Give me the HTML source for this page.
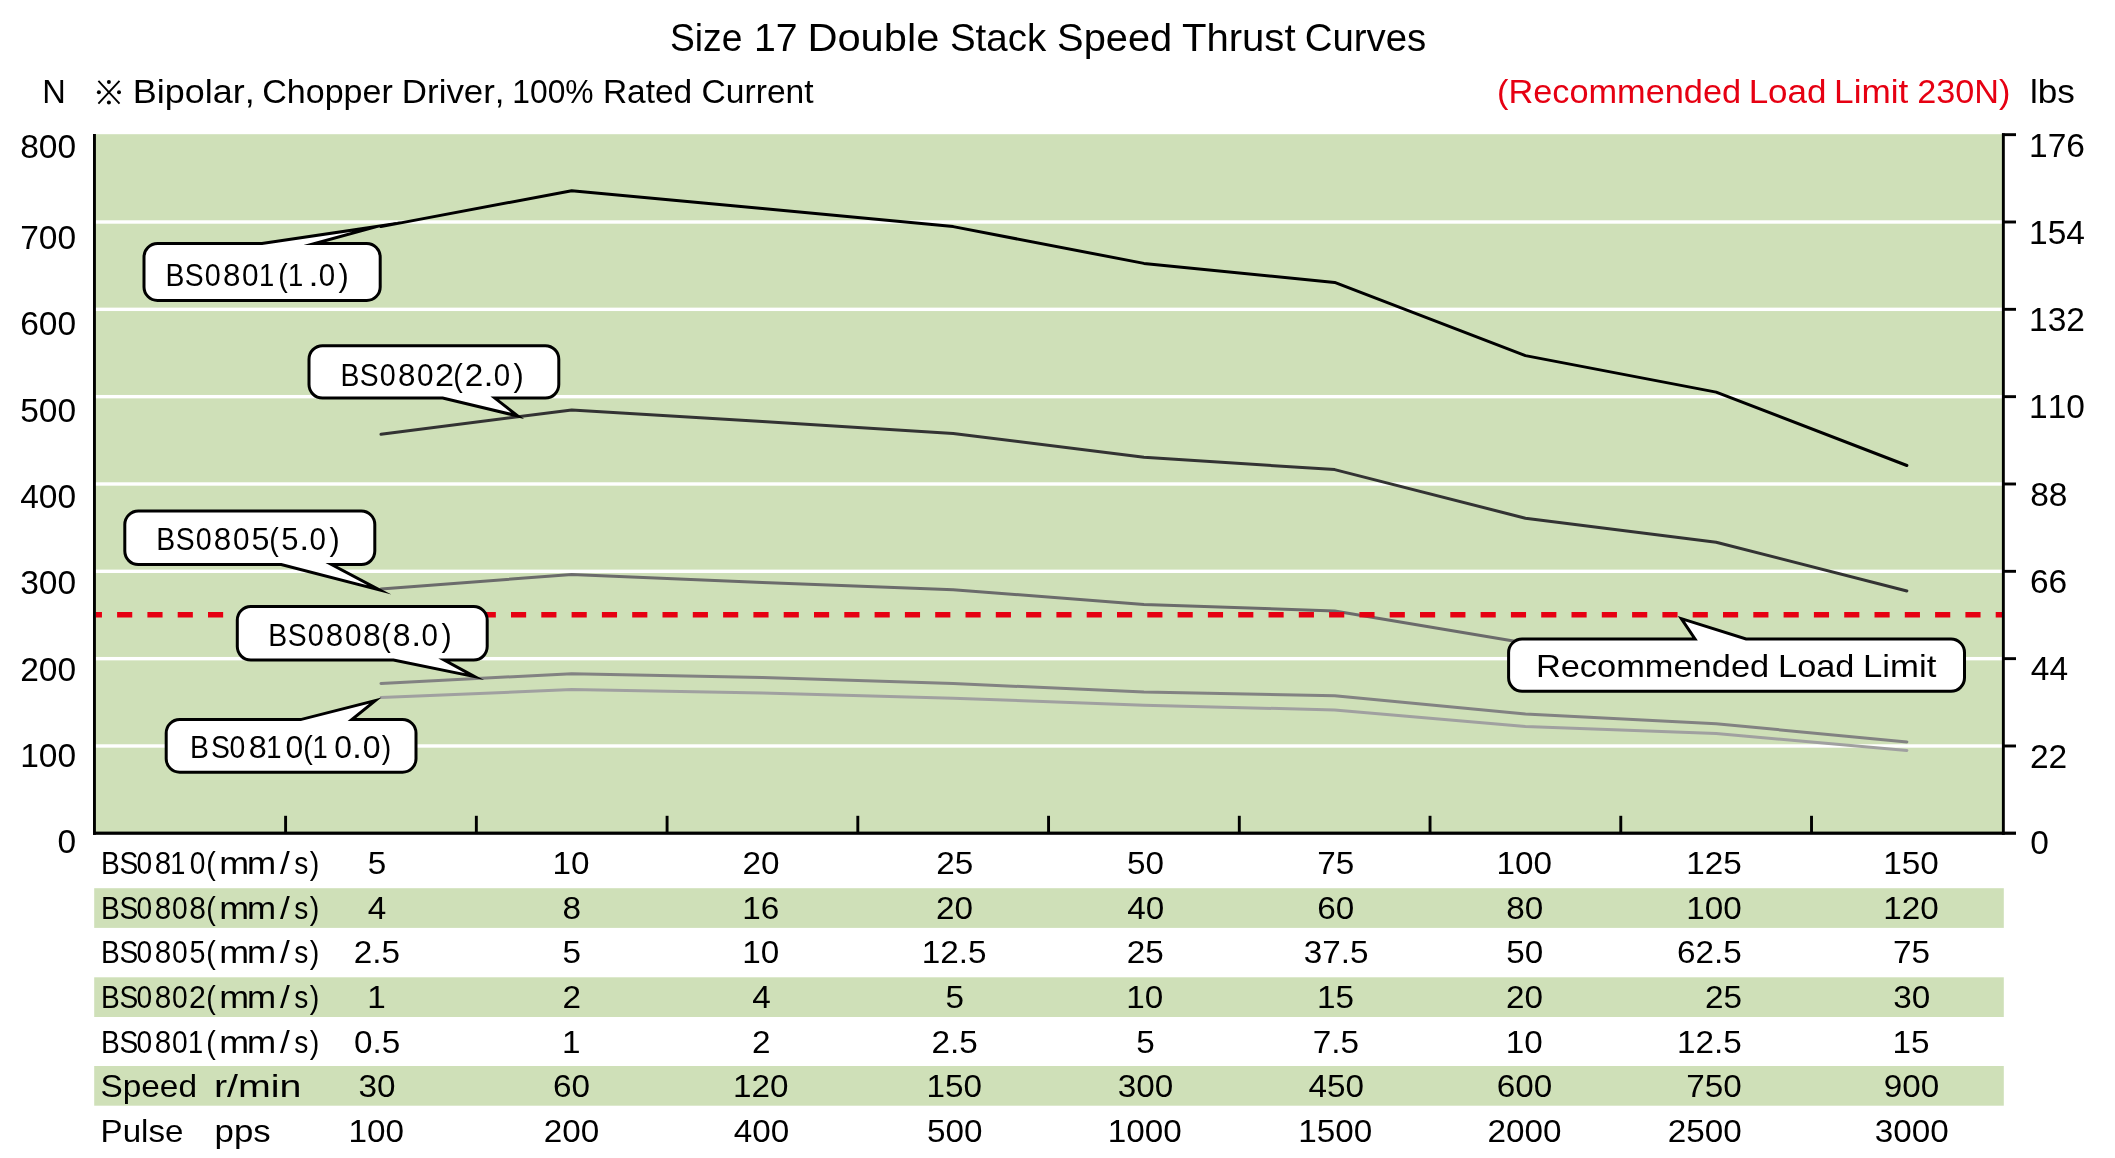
<!DOCTYPE html>
<html><head><meta charset="utf-8"><title>Size 17 Double Stack Speed Thrust Curves</title>
<style>
html,body{margin:0;padding:0;background:#fff;}
body{width:2115px;height:1158px;overflow:hidden;}
svg{display:block;font-family:"Liberation Sans",sans-serif;font-kerning:none;}
text{font-kerning:none;}
svg{will-change:transform;}
</style></head><body>
<svg width="2115" height="1158" viewBox="0 0 2115 1158">
<rect x="0" y="0" width="2115" height="1158" fill="#fff"/>
<rect x="94.5" y="134.2" width="1908.80" height="699.11" fill="#cfe0b8"/>
<rect x="94.5" y="220.30" width="1908.80" height="3.4" fill="#fff"/>
<rect x="94.5" y="307.63" width="1908.80" height="3.4" fill="#fff"/>
<rect x="94.5" y="394.96" width="1908.80" height="3.4" fill="#fff"/>
<rect x="94.5" y="482.29" width="1908.80" height="3.4" fill="#fff"/>
<rect x="94.5" y="569.62" width="1908.80" height="3.4" fill="#fff"/>
<rect x="94.5" y="656.95" width="1908.80" height="3.4" fill="#fff"/>
<rect x="94.5" y="744.28" width="1908.80" height="3.4" fill="#fff"/>
<rect x="94.2" y="888.2" width="1909.6" height="39.7" fill="#cfe0b8"/>
<rect x="94.2" y="977.3" width="1909.6" height="39.7" fill="#cfe0b8"/>
<rect x="94.2" y="1066.0" width="1909.6" height="39.7" fill="#cfe0b8"/>
<path d="M380.97,226.6 L571.71,190.7 L762.45,208.6 L953.19,226.6 L1143.93,263.4 L1334.67,282.4 L1525.41,355.6 L1716.15,392.1 L1906.89,465.5" stroke="#000000" stroke-width="3.0" fill="none" stroke-linejoin="round" stroke-linecap="round"/>
<path d="M380.97,434.3 L571.71,409.9 L762.45,421.6 L953.19,433.4 L1143.93,457.3 L1334.67,469.6 L1525.41,518.2 L1716.15,542.2 L1906.89,591.0" stroke="#333333" stroke-width="3.0" fill="none" stroke-linejoin="round" stroke-linecap="round"/>
<path d="M380.97,589.1 L571.71,574.4 L762.45,582.4 L953.19,589.7 L1143.93,604.5 L1334.67,611.0 L1525.41,643.0 L1716.15,660.0 L1906.89,675.0" stroke="#6b6b6b" stroke-width="3.0" fill="none" stroke-linejoin="round" stroke-linecap="round"/>
<path d="M380.97,683.4 L571.71,673.7 L762.45,677.6 L953.19,683.5 L1143.93,692.1 L1334.67,695.8 L1525.41,714.0 L1716.15,723.8 L1906.89,741.9" stroke="#828282" stroke-width="3.0" fill="none" stroke-linejoin="round" stroke-linecap="round"/>
<path d="M380.97,697.5 L571.71,689.6 L762.45,693.0 L953.19,698.2 L1143.93,705.3 L1334.67,709.9 L1525.41,726.5 L1716.15,733.6 L1906.89,750.4" stroke="#a0a0a0" stroke-width="3.0" fill="none" stroke-linejoin="round" stroke-linecap="round"/>
<line x1="96" y1="614.7" x2="2002" y2="614.7" stroke="#e60012" stroke-width="5.4" stroke-dasharray="15.15 15.15" stroke-dashoffset="9.20"/>
<rect x="93" y="134" width="2.9" height="700.8" fill="#000"/>
<rect x="93" y="831.6" width="1923" height="3.2" fill="#000"/>
<rect x="2001.9" y="133.3" width="2.9" height="701.5" fill="#000"/>
<rect x="2002" y="133.22" width="14" height="2.9" fill="#000"/>
<rect x="2002" y="220.55" width="14" height="2.9" fill="#000"/>
<rect x="2002" y="307.88" width="14" height="2.9" fill="#000"/>
<rect x="2002" y="395.21" width="14" height="2.9" fill="#000"/>
<rect x="2002" y="482.54" width="14" height="2.9" fill="#000"/>
<rect x="2002" y="569.87" width="14" height="2.9" fill="#000"/>
<rect x="2002" y="657.20" width="14" height="2.9" fill="#000"/>
<rect x="2002" y="744.53" width="14" height="2.9" fill="#000"/>
<rect x="284.15" y="815.8" width="2.9" height="17" fill="#000"/>
<rect x="474.89" y="815.8" width="2.9" height="17" fill="#000"/>
<rect x="665.63" y="815.8" width="2.9" height="17" fill="#000"/>
<rect x="856.37" y="815.8" width="2.9" height="17" fill="#000"/>
<rect x="1047.11" y="815.8" width="2.9" height="17" fill="#000"/>
<rect x="1237.85" y="815.8" width="2.9" height="17" fill="#000"/>
<rect x="1428.59" y="815.8" width="2.9" height="17" fill="#000"/>
<rect x="1619.33" y="815.8" width="2.9" height="17" fill="#000"/>
<rect x="1810.07" y="815.8" width="2.9" height="17" fill="#000"/>
<path d="M157.5,243.6 L261.90,243.55 L377.10,226.50 L314.70,243.55 H366.7 A13.5,13.5 0 0 1 380.2,257.1 V287.0 A13.5,13.5 0 0 1 366.7,300.5 H157.5 A13.5,13.5 0 0 1 144.0,287.0 V257.1 A13.5,13.5 0 0 1 157.5,243.6 Z" stroke="#000" stroke-width="3.0" fill="#fff" stroke-linejoin="miter" stroke-miterlimit="40"/>
<path d="M322.5,345.7 H545.3 A13.5,13.5 0 0 1 558.8,359.2 V384.6 A13.5,13.5 0 0 1 545.3,398.1 L494.83,398.10 L517.74,415.95 L442.68,398.10 H322.5 A13.5,13.5 0 0 1 309.0,384.6 V359.2 A13.5,13.5 0 0 1 322.5,345.7 Z" stroke="#000" stroke-width="3.0" fill="#fff" stroke-linejoin="miter" stroke-miterlimit="40"/>
<path d="M138.3,511.0 H361.3 A13.5,13.5 0 0 1 374.8,524.5 V551.1 A13.5,13.5 0 0 1 361.3,564.6 L331.56,564.60 L379.45,589.96 L281.19,564.60 H138.3 A13.5,13.5 0 0 1 124.8,551.1 V524.5 A13.5,13.5 0 0 1 138.3,511.0 Z" stroke="#000" stroke-width="3.0" fill="#fff" stroke-linejoin="miter" stroke-miterlimit="40"/>
<path d="M250.8,606.5 H473.7 A13.5,13.5 0 0 1 487.2,620.0 V646.6 A13.5,13.5 0 0 1 473.7,660.1 L444.20,660.10 L474.59,676.63 L393.45,660.10 H250.8 A13.5,13.5 0 0 1 237.3,646.6 V620.0 A13.5,13.5 0 0 1 250.8,606.5 Z" stroke="#000" stroke-width="3.0" fill="#fff" stroke-linejoin="miter" stroke-miterlimit="40"/>
<path d="M179.7,719.6 L300.59,719.60 L375.25,700.63 L351.87,719.60 H402.5 A13.5,13.5 0 0 1 416.0,733.1 V758.7 A13.5,13.5 0 0 1 402.5,772.2 H179.7 A13.5,13.5 0 0 1 166.2,758.7 V733.1 A13.5,13.5 0 0 1 179.7,719.6 Z" stroke="#000" stroke-width="3.0" fill="#fff" stroke-linejoin="miter" stroke-miterlimit="40"/>
<path d="M1522.1,639.0 L1695.01,639.00 L1681.33,618.62 L1746.07,639.00 H1951.0 A13.5,13.5 0 0 1 1964.5,652.5 V677.8 A13.5,13.5 0 0 1 1951.0,691.3 H1522.1 A13.5,13.5 0 0 1 1508.6,677.8 V652.5 A13.5,13.5 0 0 1 1522.1,639.0 Z" stroke="#000" stroke-width="3.0" fill="#fff" stroke-linejoin="miter" stroke-miterlimit="40"/>
<text transform="translate(165.38 285.70) scale(0.8800 1)" font-size="32.20" fill="#000">B</text>
<text transform="translate(184.86 285.70) scale(0.8800 1)" font-size="32.20" fill="#000">S</text>
<text transform="translate(204.78 285.70) scale(0.8900 1)" font-size="32.20" fill="#000">0</text>
<text transform="translate(222.94 285.70) scale(0.9729 1)" font-size="32.20" fill="#000">8</text>
<text transform="translate(242.04 285.70) scale(0.9225 1)" font-size="32.20" fill="#000">0</text>
<text transform="translate(259.01 285.70) scale(0.8500 1)" font-size="32.20" fill="#000">1</text>
<text transform="translate(278.32 285.70) scale(0.8902 1)" font-size="32.20" fill="#000">(</text>
<text transform="translate(288.11 285.70) scale(0.8500 1)" font-size="32.20" fill="#000">1</text>
<text transform="translate(308.39 285.70) scale(1.1200 1)" font-size="32.20" fill="#000">.</text>
<text transform="translate(318.65 285.70) scale(0.9160 1)" font-size="32.20" fill="#000">0</text>
<text transform="translate(338.52 285.70) scale(0.9488 1)" font-size="32.20" fill="#000">)</text>
<text transform="translate(340.38 385.60) scale(0.8800 1)" font-size="32.20" fill="#000">B</text>
<text transform="translate(359.86 385.60) scale(0.8800 1)" font-size="32.20" fill="#000">S</text>
<text transform="translate(379.78 385.60) scale(0.8900 1)" font-size="32.20" fill="#000">0</text>
<text transform="translate(397.94 385.60) scale(0.9729 1)" font-size="32.20" fill="#000">8</text>
<text transform="translate(417.04 385.60) scale(0.9225 1)" font-size="32.20" fill="#000">0</text>
<text transform="translate(434.98 385.60) scale(1.0634 1)" font-size="32.20" fill="#000">2</text>
<text transform="translate(453.32 385.60) scale(0.8902 1)" font-size="32.20" fill="#000">(</text>
<text transform="translate(464.72 385.60) scale(1.0362 1)" font-size="32.20" fill="#000">2</text>
<text transform="translate(483.39 385.60) scale(1.1200 1)" font-size="32.20" fill="#000">.</text>
<text transform="translate(493.65 385.60) scale(0.9160 1)" font-size="32.20" fill="#000">0</text>
<text transform="translate(513.52 385.60) scale(0.9488 1)" font-size="32.20" fill="#000">)</text>
<text transform="translate(156.28 549.80) scale(0.8800 1)" font-size="32.20" fill="#000">B</text>
<text transform="translate(175.76 549.80) scale(0.8800 1)" font-size="32.20" fill="#000">S</text>
<text transform="translate(195.68 549.80) scale(0.8900 1)" font-size="32.20" fill="#000">0</text>
<text transform="translate(213.84 549.80) scale(0.9729 1)" font-size="32.20" fill="#000">8</text>
<text transform="translate(232.94 549.80) scale(0.9225 1)" font-size="32.20" fill="#000">0</text>
<text transform="translate(251.41 549.80) scale(1.0022 1)" font-size="32.20" fill="#000">5</text>
<text transform="translate(269.22 549.80) scale(0.8902 1)" font-size="32.20" fill="#000">(</text>
<text transform="translate(281.26 549.80) scale(0.9629 1)" font-size="32.20" fill="#000">5</text>
<text transform="translate(299.29 549.80) scale(1.1200 1)" font-size="32.20" fill="#000">.</text>
<text transform="translate(309.55 549.80) scale(0.9160 1)" font-size="32.20" fill="#000">0</text>
<text transform="translate(329.42 549.80) scale(0.9488 1)" font-size="32.20" fill="#000">)</text>
<text transform="translate(268.28 645.60) scale(0.8800 1)" font-size="32.20" fill="#000">B</text>
<text transform="translate(287.76 645.60) scale(0.8800 1)" font-size="32.20" fill="#000">S</text>
<text transform="translate(307.68 645.60) scale(0.8900 1)" font-size="32.20" fill="#000">0</text>
<text transform="translate(325.84 645.60) scale(0.9729 1)" font-size="32.20" fill="#000">8</text>
<text transform="translate(344.94 645.60) scale(0.9225 1)" font-size="32.20" fill="#000">0</text>
<text transform="translate(363.11 645.60) scale(0.9928 1)" font-size="32.20" fill="#000">8</text>
<text transform="translate(381.22 645.60) scale(0.8902 1)" font-size="32.20" fill="#000">(</text>
<text transform="translate(392.81 645.60) scale(0.9928 1)" font-size="32.20" fill="#000">8</text>
<text transform="translate(411.29 645.60) scale(1.1200 1)" font-size="32.20" fill="#000">.</text>
<text transform="translate(421.55 645.60) scale(0.9160 1)" font-size="32.20" fill="#000">0</text>
<text transform="translate(441.42 645.60) scale(0.9488 1)" font-size="32.20" fill="#000">)</text>
<text transform="translate(190.03 757.60) scale(0.8800 1)" font-size="32.20" fill="#000">B</text>
<text transform="translate(210.91 757.60) scale(0.8800 1)" font-size="32.20" fill="#000">S</text>
<text transform="translate(229.47 757.60) scale(0.8800 1)" font-size="32.20" fill="#000">0</text>
<text transform="translate(248.69 757.60) scale(1.0060 1)" font-size="32.20" fill="#000">8</text>
<text transform="translate(266.21 757.60) scale(0.8500 1)" font-size="32.20" fill="#000">1</text>
<text transform="translate(285.46 757.60) scale(0.9875 1)" font-size="32.20" fill="#000">0</text>
<text transform="translate(303.22 757.60) scale(0.8902 1)" font-size="32.20" fill="#000">(</text>
<text transform="translate(312.46 757.60) scale(0.8500 1)" font-size="32.20" fill="#000">1</text>
<text transform="translate(334.26 757.60) scale(0.9875 1)" font-size="32.20" fill="#000">0</text>
<text transform="translate(352.04 757.60) scale(1.1200 1)" font-size="32.20" fill="#000">.</text>
<text transform="translate(362.65 757.60) scale(0.9940 1)" font-size="32.20" fill="#000">0</text>
<text transform="translate(381.83 757.60) scale(0.8800 1)" font-size="32.20" fill="#000">)</text>
<text transform="translate(1535.88 676.90) scale(1.0686 1)" font-size="32.20" fill="#000">Recommended</text>
<text transform="translate(1778.09 676.90) scale(1.0655 1)" font-size="32.20" fill="#000">Load</text>
<text transform="translate(1863.05 676.90) scale(1.0782 1)" font-size="32.20" fill="#000">Limit</text>
<text transform="translate(670.01 50.90) scale(0.9623 1)" font-size="38.70" fill="#000">Size</text>
<text transform="translate(753.91 50.90) scale(1.0144 1)" font-size="38.70" fill="#000">17</text>
<text transform="translate(807.38 50.90) scale(1.0761 1)" font-size="38.70" fill="#000">Double</text>
<text transform="translate(949.95 50.90) scale(0.9938 1)" font-size="38.70" fill="#000">Stack</text>
<text transform="translate(1057.09 50.90) scale(1.0283 1)" font-size="38.70" fill="#000">Speed</text>
<text transform="translate(1181.90 50.90) scale(1.0367 1)" font-size="38.70" fill="#000">Thrust</text>
<text transform="translate(1304.75 50.90) scale(0.9915 1)" font-size="38.70" fill="#000">Curves</text>
<text transform="translate(42.23 102.90) scale(1.0025 1)" font-size="32.50" fill="#000">N</text>
<text transform="translate(132.85 102.90) scale(1.1070 1)" font-size="32.50" fill="#000">Bipolar,</text>
<text transform="translate(262.27 102.90) scale(1.0475 1)" font-size="32.50" fill="#000">Chopper</text>
<text transform="translate(401.84 102.90) scale(1.0732 1)" font-size="32.50" fill="#000">Driver,</text>
<text transform="translate(512.28 102.90) scale(0.9788 1)" font-size="32.50" fill="#000">100%</text>
<text transform="translate(602.95 102.90) scale(1.0297 1)" font-size="32.50" fill="#000">Rated</text>
<text transform="translate(701.59 102.90) scale(1.0340 1)" font-size="32.50" fill="#000">Current</text>
<text transform="translate(1496.97 102.90) scale(1.0563 1)" font-size="32.50" fill="#e60012">(Recommended</text>
<text transform="translate(1748.63 102.90) scale(1.0779 1)" font-size="32.50" fill="#e60012">Load</text>
<text transform="translate(1834.12 102.90) scale(1.0820 1)" font-size="32.50" fill="#e60012">Limit</text>
<text transform="translate(1917.18 102.90) scale(1.0534 1)" font-size="32.50" fill="#e60012">230N)</text>
<text transform="translate(2029.93 102.90) scale(1.0817 1)" font-size="32.50" fill="#000">lbs</text>
<g stroke="#000" stroke-width="1.9" fill="none"><path d="M98.4,80.8 L119.5,103.6 M119.5,80.8 L98.4,103.6"/></g>
<circle cx="108.9" cy="81.9" r="2.0" fill="#000"/>
<circle cx="108.9" cy="102.4" r="2.0" fill="#000"/>
<circle cx="98.9" cy="92.2" r="2.0" fill="#000"/>
<circle cx="119.0" cy="92.2" r="2.0" fill="#000"/>
<text transform="translate(20.16 157.98) scale(1.0350 1)" font-size="32.40" fill="#000">800</text>
<text transform="translate(2029.05 157.18) scale(1.0350 1)" font-size="32.40" fill="#000">176</text>
<text transform="translate(20.16 249.38) scale(1.0350 1)" font-size="32.40" fill="#000">700</text>
<text transform="translate(2029.05 243.88) scale(1.0350 1)" font-size="32.40" fill="#000">154</text>
<text transform="translate(20.16 334.98) scale(1.0350 1)" font-size="32.40" fill="#000">600</text>
<text transform="translate(2029.05 331.38) scale(1.0350 1)" font-size="32.40" fill="#000">132</text>
<text transform="translate(20.16 422.18) scale(1.0350 1)" font-size="32.40" fill="#000">500</text>
<text transform="translate(2029.05 417.98) scale(1.0350 1)" font-size="32.40" fill="#000">110</text>
<text transform="translate(20.16 507.98) scale(1.0350 1)" font-size="32.40" fill="#000">400</text>
<text transform="translate(2030.14 506.38) scale(1.0350 1)" font-size="32.40" fill="#000">88</text>
<text transform="translate(20.16 594.38) scale(1.0350 1)" font-size="32.40" fill="#000">300</text>
<text transform="translate(2029.90 592.98) scale(1.0350 1)" font-size="32.40" fill="#000">66</text>
<text transform="translate(20.16 680.98) scale(1.0350 1)" font-size="32.40" fill="#000">200</text>
<text transform="translate(2030.83 680.30) scale(1.0350 1)" font-size="32.40" fill="#000">44</text>
<text transform="translate(20.16 767.18) scale(1.0350 1)" font-size="32.40" fill="#000">100</text>
<text transform="translate(2029.91 767.50) scale(1.0350 1)" font-size="32.40" fill="#000">22</text>
<text transform="translate(57.46 852.98) scale(1.0350 1)" font-size="32.40" fill="#000">0</text>
<text transform="translate(2030.29 853.88) scale(1.0350 1)" font-size="32.40" fill="#000">0</text>
<text transform="translate(101.05 874.10) scale(0.8800 1)" font-size="32.00" fill="#000">B</text>
<text transform="translate(119.52 874.10) scale(0.8800 1)" font-size="32.00" fill="#000">S</text>
<text transform="translate(136.42 874.10) scale(0.8800 1)" font-size="32.00" fill="#000">0</text>
<text transform="translate(154.81 874.10) scale(0.9257 1)" font-size="32.00" fill="#000">8</text>
<text transform="translate(170.36 874.10) scale(0.8500 1)" font-size="32.00" fill="#000">1</text>
<text transform="translate(189.67 874.10) scale(0.8800 1)" font-size="32.00" fill="#000">0</text>
<text transform="translate(206.32 874.10) scale(0.8958 1)" font-size="32.00" fill="#000">(</text>
<text transform="translate(219.21 874.10) scale(1.1200 1)" font-size="32.00" fill="#000">m</text>
<text transform="translate(247.08 874.10) scale(1.0927 1)" font-size="32.00" fill="#000">m</text>
<text transform="translate(279.90 874.10) scale(1.1023 1)" font-size="32.00" fill="#000">/</text>
<text transform="translate(294.13 874.10) scale(0.8800 1)" font-size="32.00" fill="#000">s</text>
<text transform="translate(309.63 874.10) scale(0.8958 1)" font-size="32.00" fill="#000">)</text>
<text transform="translate(367.78 874.10) scale(1.0400 1)" font-size="32.00" fill="#000">5</text>
<text transform="translate(552.57 874.10) scale(1.0400 1)" font-size="32.00" fill="#000">10</text>
<text transform="translate(742.60 874.10) scale(1.0400 1)" font-size="32.00" fill="#000">20</text>
<text transform="translate(936.15 874.10) scale(1.0400 1)" font-size="32.00" fill="#000">25</text>
<text transform="translate(1126.88 874.10) scale(1.0400 1)" font-size="32.00" fill="#000">50</text>
<text transform="translate(1317.34 874.10) scale(1.0400 1)" font-size="32.00" fill="#000">75</text>
<text transform="translate(1496.42 874.10) scale(1.0400 1)" font-size="32.00" fill="#000">100</text>
<text transform="translate(1686.37 874.10) scale(1.0400 1)" font-size="32.00" fill="#000">125</text>
<text transform="translate(1883.32 874.10) scale(1.0400 1)" font-size="32.00" fill="#000">150</text>
<text transform="translate(101.05 918.72) scale(0.8800 1)" font-size="32.00" fill="#000">B</text>
<text transform="translate(119.52 918.72) scale(0.8800 1)" font-size="32.00" fill="#000">S</text>
<text transform="translate(136.42 918.72) scale(0.8800 1)" font-size="32.00" fill="#000">0</text>
<text transform="translate(154.81 918.72) scale(0.9257 1)" font-size="32.00" fill="#000">8</text>
<text transform="translate(171.97 918.72) scale(0.8800 1)" font-size="32.00" fill="#000">0</text>
<text transform="translate(189.14 918.72) scale(0.9390 1)" font-size="32.00" fill="#000">8</text>
<text transform="translate(206.32 918.72) scale(0.8958 1)" font-size="32.00" fill="#000">(</text>
<text transform="translate(219.21 918.72) scale(1.1200 1)" font-size="32.00" fill="#000">m</text>
<text transform="translate(247.08 918.72) scale(1.0927 1)" font-size="32.00" fill="#000">m</text>
<text transform="translate(279.90 918.72) scale(1.1023 1)" font-size="32.00" fill="#000">/</text>
<text transform="translate(294.13 918.72) scale(0.8800 1)" font-size="32.00" fill="#000">s</text>
<text transform="translate(309.63 918.72) scale(0.8958 1)" font-size="32.00" fill="#000">)</text>
<text transform="translate(367.85 918.72) scale(1.0400 1)" font-size="32.00" fill="#000">4</text>
<text transform="translate(562.45 918.72) scale(1.0400 1)" font-size="32.00" fill="#000">8</text>
<text transform="translate(742.25 918.72) scale(1.0400 1)" font-size="32.00" fill="#000">16</text>
<text transform="translate(936.10 918.72) scale(1.0400 1)" font-size="32.00" fill="#000">20</text>
<text transform="translate(1127.16 918.72) scale(1.0400 1)" font-size="32.00" fill="#000">40</text>
<text transform="translate(1317.30 918.72) scale(1.0400 1)" font-size="32.00" fill="#000">60</text>
<text transform="translate(1506.22 918.72) scale(1.0400 1)" font-size="32.00" fill="#000">80</text>
<text transform="translate(1686.27 918.72) scale(1.0400 1)" font-size="32.00" fill="#000">100</text>
<text transform="translate(1883.32 918.72) scale(1.0400 1)" font-size="32.00" fill="#000">120</text>
<text transform="translate(101.05 963.34) scale(0.8800 1)" font-size="32.00" fill="#000">B</text>
<text transform="translate(119.52 963.34) scale(0.8800 1)" font-size="32.00" fill="#000">S</text>
<text transform="translate(136.42 963.34) scale(0.8800 1)" font-size="32.00" fill="#000">0</text>
<text transform="translate(154.81 963.34) scale(0.9257 1)" font-size="32.00" fill="#000">8</text>
<text transform="translate(171.97 963.34) scale(0.8800 1)" font-size="32.00" fill="#000">0</text>
<text transform="translate(189.55 963.34) scale(0.8964 1)" font-size="32.00" fill="#000">5</text>
<text transform="translate(206.32 963.34) scale(0.8958 1)" font-size="32.00" fill="#000">(</text>
<text transform="translate(219.21 963.34) scale(1.1200 1)" font-size="32.00" fill="#000">m</text>
<text transform="translate(247.08 963.34) scale(1.0927 1)" font-size="32.00" fill="#000">m</text>
<text transform="translate(279.90 963.34) scale(1.1023 1)" font-size="32.00" fill="#000">/</text>
<text transform="translate(294.13 963.34) scale(0.8800 1)" font-size="32.00" fill="#000">s</text>
<text transform="translate(309.63 963.34) scale(0.8958 1)" font-size="32.00" fill="#000">)</text>
<text transform="translate(353.73 963.34) scale(1.0400 1)" font-size="32.00" fill="#000">2.5</text>
<text transform="translate(562.48 963.34) scale(1.0400 1)" font-size="32.00" fill="#000">5</text>
<text transform="translate(742.17 963.34) scale(1.0400 1)" font-size="32.00" fill="#000">10</text>
<text transform="translate(921.85 963.34) scale(1.0400 1)" font-size="32.00" fill="#000">12.5</text>
<text transform="translate(1126.75 963.34) scale(1.0400 1)" font-size="32.00" fill="#000">25</text>
<text transform="translate(1303.68 963.34) scale(1.0400 1)" font-size="32.00" fill="#000">37.5</text>
<text transform="translate(1506.27 963.34) scale(1.0400 1)" font-size="32.00" fill="#000">50</text>
<text transform="translate(1677.12 963.34) scale(1.0400 1)" font-size="32.00" fill="#000">62.5</text>
<text transform="translate(1893.04 963.34) scale(1.0400 1)" font-size="32.00" fill="#000">75</text>
<text transform="translate(101.05 1007.96) scale(0.8800 1)" font-size="32.00" fill="#000">B</text>
<text transform="translate(119.52 1007.96) scale(0.8800 1)" font-size="32.00" fill="#000">S</text>
<text transform="translate(136.42 1007.96) scale(0.8800 1)" font-size="32.00" fill="#000">0</text>
<text transform="translate(154.81 1007.96) scale(0.9257 1)" font-size="32.00" fill="#000">8</text>
<text transform="translate(171.97 1007.96) scale(0.8800 1)" font-size="32.00" fill="#000">0</text>
<text transform="translate(189.08 1007.96) scale(0.9466 1)" font-size="32.00" fill="#000">2</text>
<text transform="translate(206.32 1007.96) scale(0.8958 1)" font-size="32.00" fill="#000">(</text>
<text transform="translate(219.21 1007.96) scale(1.1200 1)" font-size="32.00" fill="#000">m</text>
<text transform="translate(247.08 1007.96) scale(1.0927 1)" font-size="32.00" fill="#000">m</text>
<text transform="translate(279.90 1007.96) scale(1.1023 1)" font-size="32.00" fill="#000">/</text>
<text transform="translate(294.13 1007.96) scale(0.8800 1)" font-size="32.00" fill="#000">s</text>
<text transform="translate(309.63 1007.96) scale(0.8958 1)" font-size="32.00" fill="#000">)</text>
<text transform="translate(367.29 1007.96) scale(1.0400 1)" font-size="32.00" fill="#000">1</text>
<text transform="translate(562.45 1007.96) scale(1.0400 1)" font-size="32.00" fill="#000">2</text>
<text transform="translate(752.15 1007.96) scale(1.0400 1)" font-size="32.00" fill="#000">4</text>
<text transform="translate(945.58 1007.96) scale(1.0400 1)" font-size="32.00" fill="#000">5</text>
<text transform="translate(1126.27 1007.96) scale(1.0400 1)" font-size="32.00" fill="#000">10</text>
<text transform="translate(1316.92 1007.96) scale(1.0400 1)" font-size="32.00" fill="#000">15</text>
<text transform="translate(1506.10 1007.96) scale(1.0400 1)" font-size="32.00" fill="#000">20</text>
<text transform="translate(1704.88 1007.96) scale(1.0400 1)" font-size="32.00" fill="#000">25</text>
<text transform="translate(1893.21 1007.96) scale(1.0400 1)" font-size="32.00" fill="#000">30</text>
<text transform="translate(101.05 1052.58) scale(0.8800 1)" font-size="32.00" fill="#000">B</text>
<text transform="translate(119.52 1052.58) scale(0.8800 1)" font-size="32.00" fill="#000">S</text>
<text transform="translate(136.42 1052.58) scale(0.8800 1)" font-size="32.00" fill="#000">0</text>
<text transform="translate(154.81 1052.58) scale(0.9257 1)" font-size="32.00" fill="#000">8</text>
<text transform="translate(171.97 1052.58) scale(0.8800 1)" font-size="32.00" fill="#000">0</text>
<text transform="translate(188.06 1052.58) scale(0.8500 1)" font-size="32.00" fill="#000">1</text>
<text transform="translate(206.32 1052.58) scale(0.8958 1)" font-size="32.00" fill="#000">(</text>
<text transform="translate(219.21 1052.58) scale(1.1200 1)" font-size="32.00" fill="#000">m</text>
<text transform="translate(247.08 1052.58) scale(1.0927 1)" font-size="32.00" fill="#000">m</text>
<text transform="translate(279.90 1052.58) scale(1.1023 1)" font-size="32.00" fill="#000">/</text>
<text transform="translate(294.13 1052.58) scale(0.8800 1)" font-size="32.00" fill="#000">s</text>
<text transform="translate(309.63 1052.58) scale(0.8958 1)" font-size="32.00" fill="#000">)</text>
<text transform="translate(353.92 1052.58) scale(1.0400 1)" font-size="32.00" fill="#000">0.5</text>
<text transform="translate(561.99 1052.58) scale(1.0400 1)" font-size="32.00" fill="#000">1</text>
<text transform="translate(752.05 1052.58) scale(1.0400 1)" font-size="32.00" fill="#000">2</text>
<text transform="translate(931.53 1052.58) scale(1.0400 1)" font-size="32.00" fill="#000">2.5</text>
<text transform="translate(1136.18 1052.58) scale(1.0400 1)" font-size="32.00" fill="#000">5</text>
<text transform="translate(1312.71 1052.58) scale(1.0400 1)" font-size="32.00" fill="#000">7.5</text>
<text transform="translate(1505.67 1052.58) scale(1.0400 1)" font-size="32.00" fill="#000">10</text>
<text transform="translate(1677.12 1052.58) scale(1.0400 1)" font-size="32.00" fill="#000">12.5</text>
<text transform="translate(1892.62 1052.58) scale(1.0400 1)" font-size="32.00" fill="#000">15</text>
<text transform="translate(358.51 1097.20) scale(1.0400 1)" font-size="32.00" fill="#000">30</text>
<text transform="translate(553.00 1097.20) scale(1.0400 1)" font-size="32.00" fill="#000">60</text>
<text transform="translate(732.92 1097.20) scale(1.0400 1)" font-size="32.00" fill="#000">120</text>
<text transform="translate(926.42 1097.20) scale(1.0400 1)" font-size="32.00" fill="#000">150</text>
<text transform="translate(1117.65 1097.20) scale(1.0400 1)" font-size="32.00" fill="#000">300</text>
<text transform="translate(1308.50 1097.20) scale(1.0400 1)" font-size="32.00" fill="#000">450</text>
<text transform="translate(1496.84 1097.20) scale(1.0400 1)" font-size="32.00" fill="#000">600</text>
<text transform="translate(1686.27 1097.20) scale(1.0400 1)" font-size="32.00" fill="#000">750</text>
<text transform="translate(1883.81 1097.20) scale(1.0400 1)" font-size="32.00" fill="#000">900</text>
<text transform="translate(348.62 1141.82) scale(1.0400 1)" font-size="32.00" fill="#000">100</text>
<text transform="translate(543.75 1141.82) scale(1.0400 1)" font-size="32.00" fill="#000">200</text>
<text transform="translate(733.80 1141.82) scale(1.0400 1)" font-size="32.00" fill="#000">400</text>
<text transform="translate(927.02 1141.82) scale(1.0400 1)" font-size="32.00" fill="#000">500</text>
<text transform="translate(1107.77 1141.82) scale(1.0400 1)" font-size="32.00" fill="#000">1000</text>
<text transform="translate(1298.37 1141.82) scale(1.0400 1)" font-size="32.00" fill="#000">1500</text>
<text transform="translate(1487.60 1141.82) scale(1.0400 1)" font-size="32.00" fill="#000">2000</text>
<text transform="translate(1667.77 1141.82) scale(1.0400 1)" font-size="32.00" fill="#000">2500</text>
<text transform="translate(1874.70 1141.82) scale(1.0400 1)" font-size="32.00" fill="#000">3000</text>
<text transform="translate(100.48 1097.20) scale(1.0436 1)" font-size="32.00" fill="#000">Speed</text>
<text transform="translate(213.88 1097.20) scale(1.2316 1)" font-size="32.00" fill="#000">r/min</text>
<text transform="translate(100.59 1141.82) scale(1.0342 1)" font-size="32.00" fill="#000">Pulse</text>
<text transform="translate(214.56 1141.82) scale(1.0873 1)" font-size="32.00" fill="#000">pps</text>
</svg>
</body></html>
